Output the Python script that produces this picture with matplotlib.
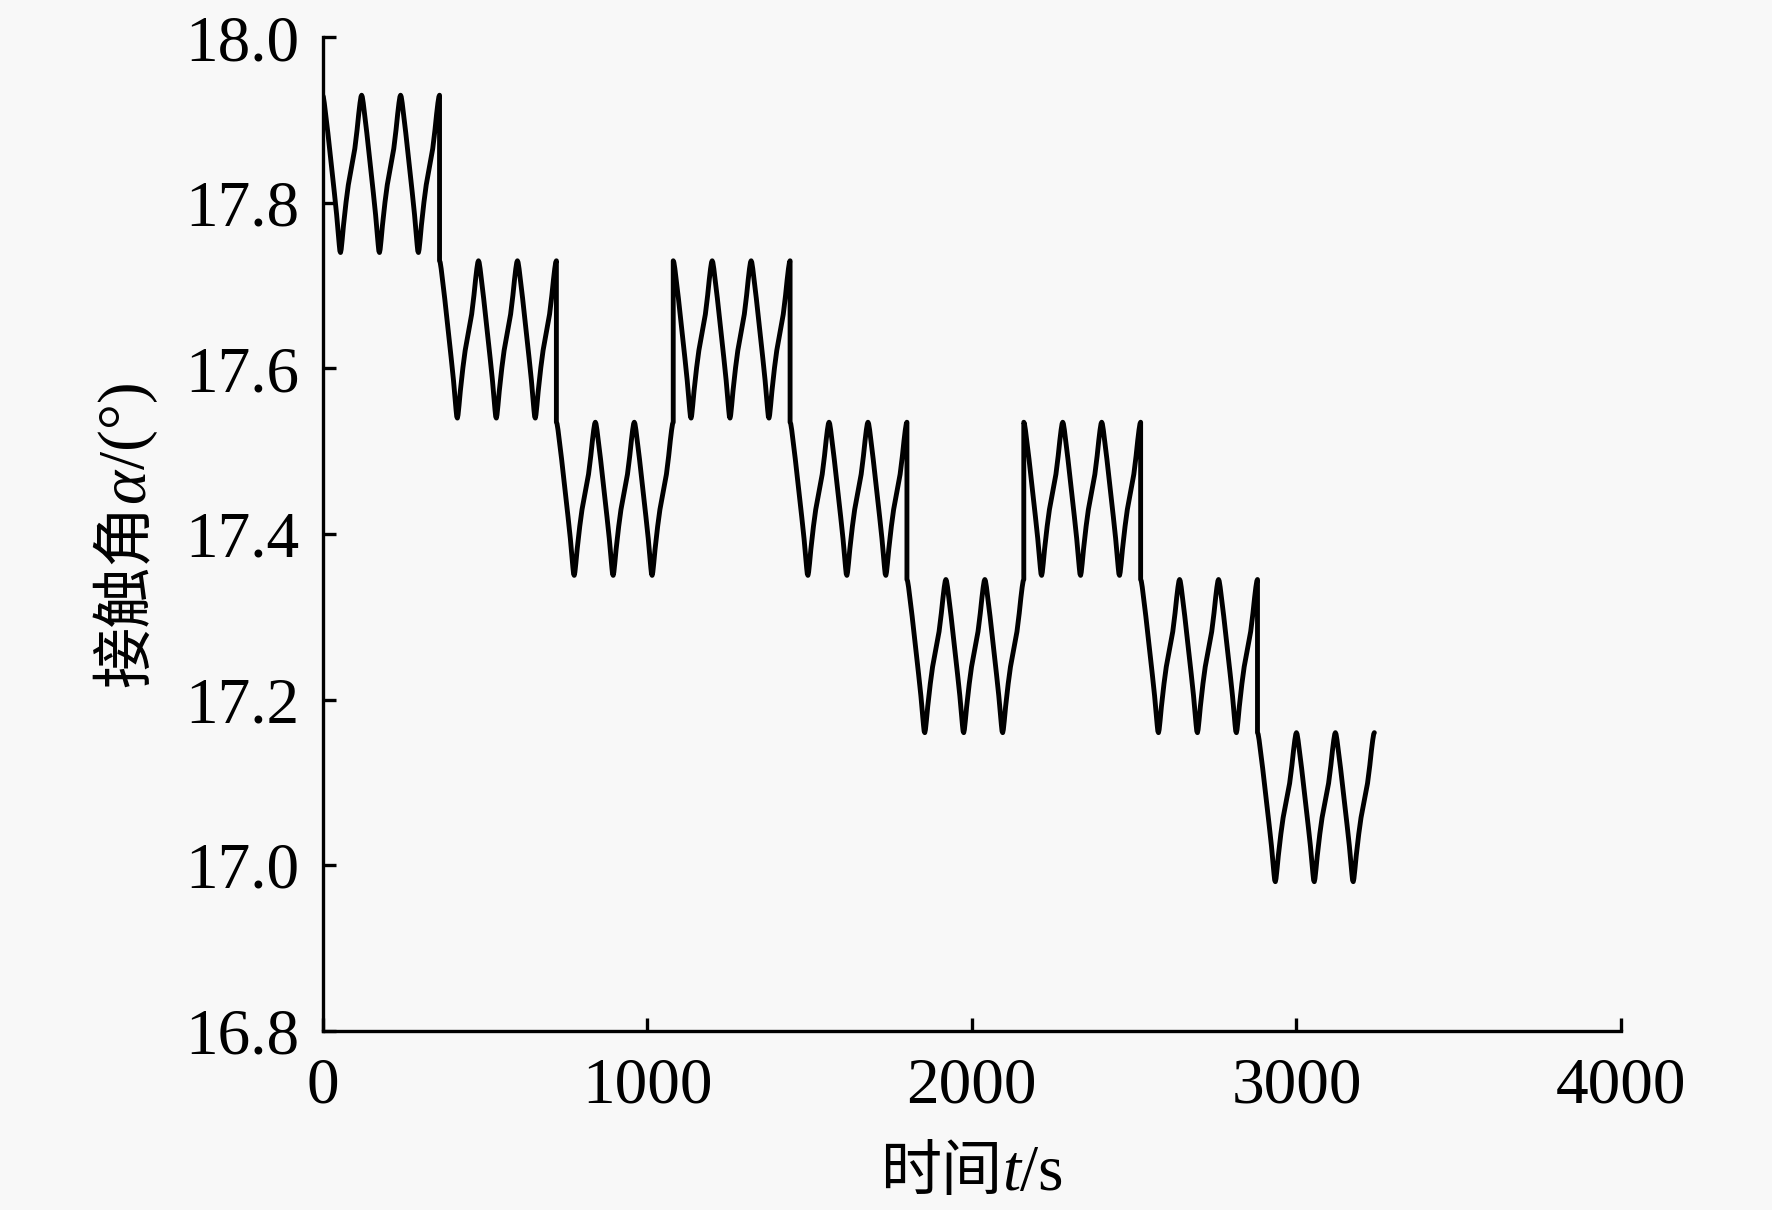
import numpy as np
import matplotlib.pyplot as plt

# each 360 s stage sits on one of five levels, 3 oscillations per stage
seg_len = 360
cyc_len = 120
n_cycles = 3
seg_level = [0, 1, 2, 1, 2, 3, 2, 3, 4]
level_peak = [17.93, 17.73, 17.535, 17.345, 17.16]
level_trough = [17.74, 17.54, 17.35, 17.16, 16.98]

# one oscillation (0 = trough, 1 = peak)
cyc_t = [0, 2, 5, 9, 16, 26, 36, 43, 48, 51, 53, 55, 57, 60, 64, 72, 79, 85, 92, 99, 106, 111, 115, 118, 120]
cyc_v = [1.0, 0.99, 0.95, 0.88, 0.76, 0.57, 0.38, 0.24, 0.12, 0.05, 0.01, 0.0, 0.02, 0.08, 0.17, 0.32,
         0.43, 0.50, 0.58, 0.66, 0.78, 0.88, 0.95, 0.99, 1.0]

xticks = [0, 1000, 2000, 3000, 4000]
yticks = [16.8, 17.0, 17.2, 17.4, 17.6, 17.8, 18.0]

t_all, a_all = [], []
for i, lv in enumerate(seg_level):
    lo, hi = level_trough[lv], level_peak[lv]
    for c in range(n_cycles):
        t0 = i * seg_len + c * cyc_len
        for k in range(len(cyc_t)):
            if c > 0 and k == 0:
                continue
            t_all.append(t0 + cyc_t[k])
            a_all.append(lo + cyc_v[k] * (hi - lo))

bg = '#f8f8f8'
W, H = 1772, 1210
fig = plt.figure(figsize=(W / 100, H / 100), dpi=100, facecolor=bg)
ax = fig.add_axes([0.1821, 0.1482, 0.7327, 0.8210])
ax.set_facecolor(bg)

ax.plot(t_all, a_all, color='black', lw=3.5, solid_joinstyle='round', solid_capstyle='round')

ax.set_xlim(0, 4000)
ax.set_ylim(16.8, 18.0)
ax.set_xticks(xticks)
ax.set_yticks(yticks)
ax.set_xticklabels([str(v) for v in xticks])
ax.set_yticklabels(['%.1f' % v for v in yticks])
for s in ['top', 'right']:
    ax.spines[s].set_visible(False)
for s in ['left', 'bottom']:
    ax.spines[s].set_linewidth(2.4)
ax.tick_params(direction='in', length=9.5, width=2.4, labelsize=47)
ax.tick_params(axis='y', pad=17)
ax.tick_params(axis='x', pad=19)
for lab in ax.get_xticklabels() + ax.get_yticklabels():
    lab.set_fontfamily('Liberation Serif')

cjk = dict(family='Noto Sans CJK SC', size=44)
rm = dict(family='Liberation Serif', size=47)
it = dict(family='Liberation Serif', size=47, style='italic')

fig.canvas.draw()
r = fig.canvas.get_renderer()


def put_row(pieces, xc, yb):
    texts = [fig.text(0, yb, s, ha='left', va='baseline', **kw) for s, kw in pieces]
    ws = [tx.get_window_extent(r).width for tx in texts]
    x = xc * W - sum(ws) / 2
    for tx, w in zip(texts, ws):
        tx.set_x(x / W)
        x += w


def put_col(pieces, xb, yc):
    texts = [fig.text(xb, 0, s, ha='left', va='baseline', rotation=90,
                      rotation_mode='anchor', **kw) for s, kw in pieces]
    hs = [tx.get_window_extent(r).height for tx in texts]
    y = yc * H - sum(hs) / 2
    for tx, h in zip(texts, hs):
        tx.set_y(y / H)
        y += h


put_row([('时间', cjk), ('t', it), ('/s', rm)], 0.1821 + 0.7327 / 2, 1 - 1190 / H)
put_col([('接触角', cjk), ('α', it), ('/(°)', rm)], 144 / W, 0.1482 + 0.8210 / 2)

fig.savefig('out.png', dpi=100, facecolor=bg)
